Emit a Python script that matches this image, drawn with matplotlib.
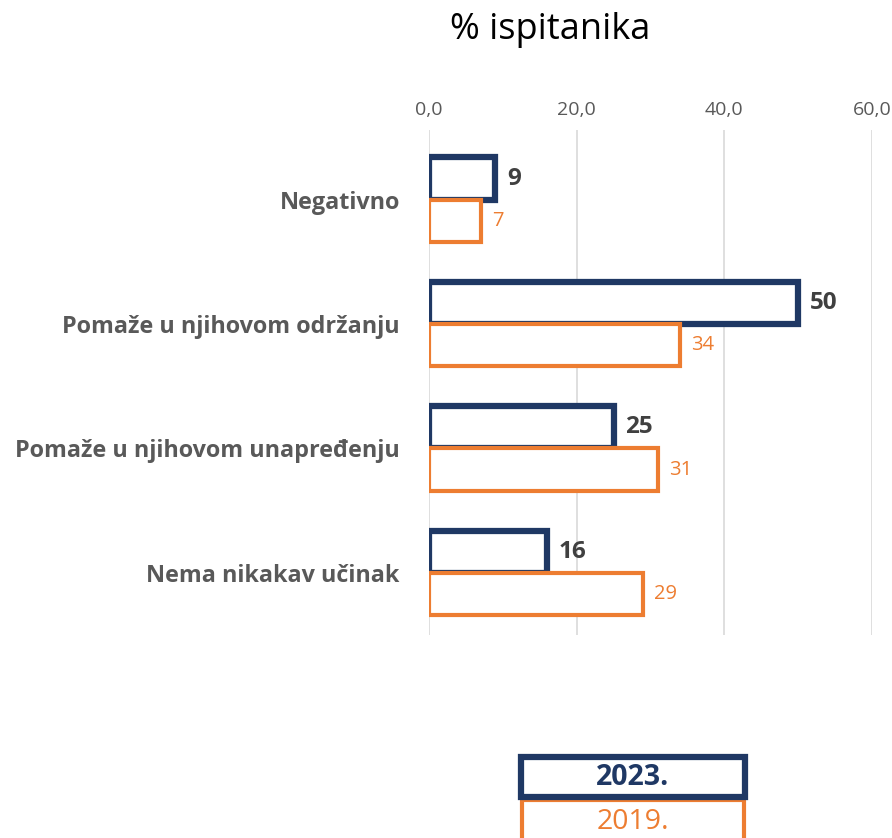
import numpy as np
import matplotlib; matplotlib.use("Agg")
import matplotlib.pyplot as plt
from matplotlib.patches import Rectangle

categories = ["Negativno", "Pomaže u njihovom održanju", "Pomaže u njihovom unapređenju", "Nema nikakav učinak"]
vals_2023 = [9, 50, 25, 16]
vals_2019 = [7, 34, 31, 29]
xticks = [0, 20, 40, 60]
xtick_labels = ["0,0", "20,0", "40,0", "60,0"]

navy = "#1F3864"
orange = "#ED7D31"
gray = "#595959"
plt.rcParams["font.family"] = ["Open Sans", "DejaVu Sans"]

W, H = 892, 838
fig = plt.figure(figsize=(W / 100, H / 100), dpi=100)
ax = fig.add_axes([429 / W, 1 - 635 / H, (872 - 429) / W, (635 - 130) / H])

y = np.arange(len(categories))
h = 0.34
ax.barh(y - h / 2, vals_2023, height=h, facecolor="white", edgecolor=navy, linewidth=4.5, zorder=3)
ax.barh(y + h / 2, vals_2019, height=h, facecolor="white", edgecolor=orange, linewidth=3, zorder=3)

for yi, v in zip(y, vals_2023):
    ax.text(v + 1.6, yi - h / 2, str(v), ha="left", va="center", fontsize=17.5, fontweight="bold", color="#404040")
for yi, v in zip(y, vals_2019):
    ax.text(v + 1.5, yi + h / 2, str(v), ha="left", va="center", fontsize=14.5, color=orange)

ax.set_xlim(0, 60)
ax.set_ylim(3.5, -0.56)
ax.set_xticks(xticks)
ax.set_xticklabels(xtick_labels, fontsize=14, color=gray)
ax.xaxis.tick_top()
ax.tick_params(axis="x", length=0, pad=8)
ax.set_yticks(y)
ax.set_yticklabels(categories, fontsize=16.8, fontweight="bold", color=gray)
ax.tick_params(axis="y", length=0, pad=21)
ax.grid(axis="x", color="#D9D9D9", linewidth=1.2, zorder=0)
for s in ax.spines.values():
    s.set_visible(False)

fig.text(550 / W, 1 - 30 / H, "% ispitanika", ha="center", va="center", fontsize=26, color="black")

# legend boxes
fig.patches.append(Rectangle((521 / W, 1 - 797 / H), 224 / W, 40 / H, transform=fig.transFigure,
                             facecolor="white", edgecolor=navy, linewidth=4.5, zorder=3))
fig.patches.append(Rectangle((522 / W, 1 - 845 / H), 222 / W, 45 / H, transform=fig.transFigure,
                             facecolor="white", edgecolor=orange, linewidth=3, zorder=2))
fig.text(633 / W, 1 - 777 / H, "2023.", ha="center", va="center", fontsize=20.5, fontweight="bold", color=navy)
fig.text(633 / W, 1 - 822 / H, "2019.", ha="center", va="center", fontsize=20.5, color=orange)

fig.savefig("out.png", dpi=100)
